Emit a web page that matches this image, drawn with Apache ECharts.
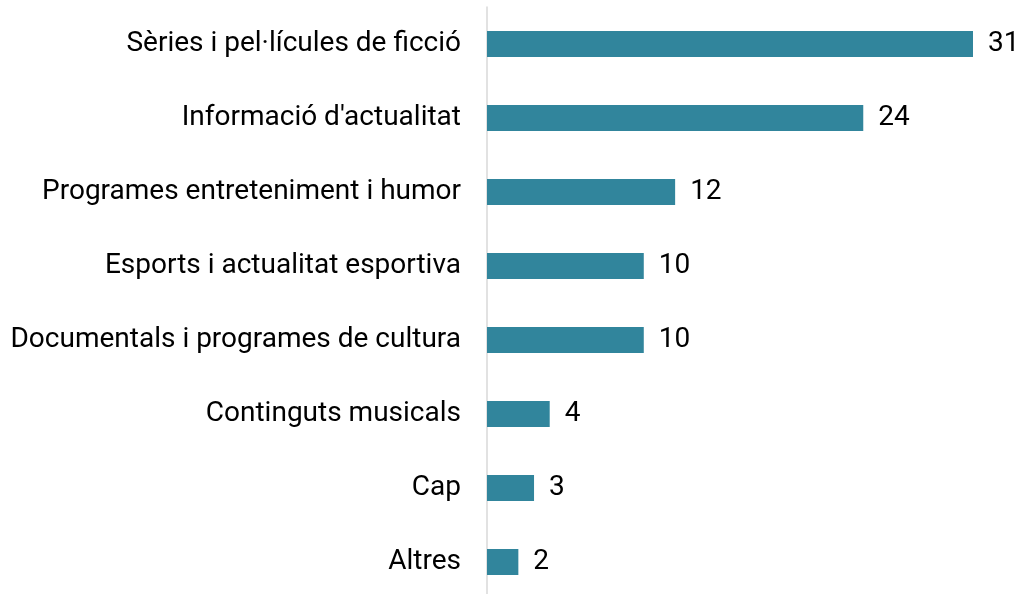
<!DOCTYPE html>
<html><head><meta charset="utf-8">
<script src="https://cdn.jsdelivr.net/npm/echarts@6/dist/echarts.min.js"></script>
<style>html,body{margin:0;padding:0;background:#fff}#chart{width:1025px;height:594px}</style>
</head><body><div id="chart"></div>
<script>
const categories = ['Sèries i pel·lícules de ficció','Informació d\'actualitat','Programes entreteniment i humor','Esports i actualitat esportiva','Documentals i programes de cultura','Continguts musicals','Cap','Altres'];
const values = [31, 24, 12, 10, 10, 4, 3, 2];

const chart = echarts.init(document.getElementById('chart'), null, {renderer:'canvas'});
chart.setOption({
  animation:false,
  backgroundColor:'#ffffff',
  textStyle:{fontFamily:'Roboto'},
  grid:{left:487, right:52, top:7, height:592, containLabel:false, outerBoundsMode:'none'},
  xAxis:{type:'value', min:0, max:31, show:false},
  yAxis:{type:'category', data:categories, inverse:true,
    axisLine:{show:true, lineStyle:{color:'#d9d9d9', width:1.5}},
    axisTick:{show:false},
    axisLabel:{color:'#000', fontSize:28, fontFamily:'Roboto', margin:26}
  },
  series:[{type:'bar', data:values, barWidth:26, itemStyle:{color:'#31859c'},
    label:{show:true, position:'right', distance:15, color:'#000', fontSize:28, fontFamily:'Roboto'}}]
});
</script></body></html>
